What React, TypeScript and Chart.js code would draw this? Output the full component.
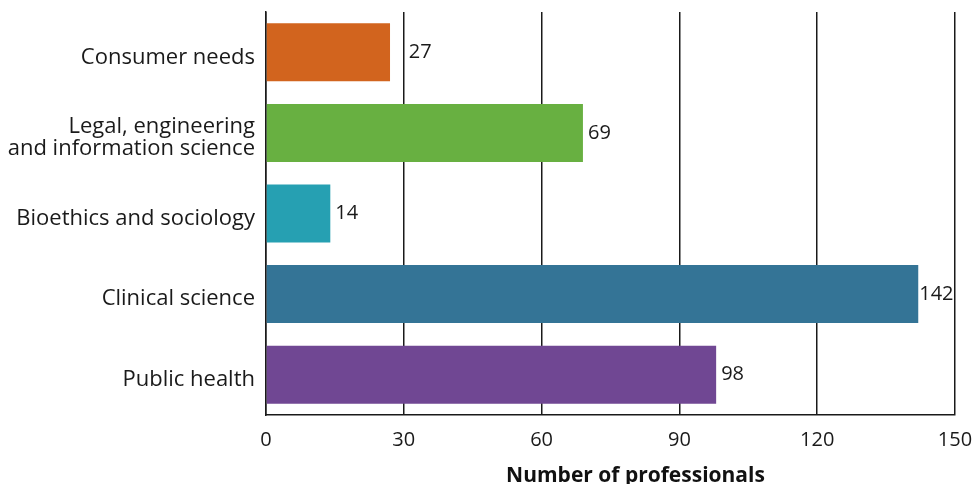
import React, { useEffect, useRef } from "react";
import { Chart, registerables } from "chart.js";

Chart.register(...registerables);

const categories: (string | string[])[] = [
  "Consumer needs",
  ["Legal, engineering", "and information science"],
  "Bioethics and sociology",
  "Clinical science",
  "Public health",
];
const values = [27, 69, 14, 142, 98];
const barColors = ["#D2641E", "#68B041", "#26A0B2", "#347496", "#704793"];
const axisTitle = "Number of professionals";
const xMin = 0;
const xMax = 150;
const xStep = 30;

const FONT = "'Open Sans', sans-serif";

const valueLabels = {
  id: "valueLabels",
  afterDatasetsDraw(chart: any) {
    const ctx = chart.ctx;
    const meta = chart.getDatasetMeta(0);
    const xs = chart.scales.x;
    const grids: number[] = [];
    for (let v = xMin; v <= xMax; v += xStep) grids.push(xs.getPixelForValue(v));
    ctx.save();
    ctx.font = `20px ${FONT}`;
    ctx.fillStyle = "#1a1a1a";
    ctx.textBaseline = "middle";
    ctx.textAlign = "left";
    meta.data.forEach((bar: any, i: number) => {
      const txt = String(values[i]);
      const w = ctx.measureText(txt).width;
      const end = bar.x;
      let x = end + 5;
      const hit = grids.find((g) => g > end && g < x + w + 2);
      if (hit !== undefined) {
        if (hit - end >= w - 2) x = end + 1;
        else x = hit + 5;
      }
      ctx.fillText(txt, x, bar.y);
    });
    ctx.restore();
  },
};

const xTitle = {
  id: "xTitle",
  afterDraw(chart: any) {
    const ctx = chart.ctx;
    const a = chart.chartArea;
    ctx.save();
    ctx.font = `bold 21px ${FONT}`;
    ctx.fillStyle = "#111";
    ctx.textAlign = "center";
    ctx.textBaseline = "middle";
    ctx.fillText(axisTitle, (a.left + a.right) / 2 + 25, a.bottom + 61);
    ctx.restore();
  },
};

export default function App() {
  const ref = useRef<HTMLCanvasElement>(null);
  useEffect(() => {
    document.body.style.margin = "0";
    const chart = new Chart(ref.current!, {
      type: "bar",
      data: {
        labels: categories as any,
        datasets: [
          {
            data: values,
            backgroundColor: barColors,
            borderWidth: 0,
            barPercentage: 0.72,
            categoryPercentage: 1,
          },
        ],
      },
      options: {
        indexAxis: "y",
        animation: false,
        responsive: false,
        maintainAspectRatio: false,
        layout: { padding: { left: 0, right: 18, top: 12, bottom: 0 } },
        plugins: { legend: { display: false }, tooltip: { enabled: false } },
        scales: {
          x: {
            min: xMin,
            max: xMax,
            ticks: {
              stepSize: xStep,
              padding: 13,
              color: "#1a1a1a",
              font: { family: FONT, size: 20 },
            },
            grid: { display: true, color: "#1a1a1a", lineWidth: 1.5, drawTicks: false },
            border: { display: true, color: "#1a1a1a", width: 1.5 },
            afterFit: (s: any) => {
              s.height = 69;
              s.paddingLeft = 0;
              s.paddingRight = 0;
            },
          },
          y: {
            ticks: {
              padding: 11,
              labelOffset: 5,
              color: "#1a1a1a",
              font: { family: FONT, size: 22, lineHeight: 0.98 },
            },
            grid: { display: false, drawTicks: false },
            border: { display: true, color: "#1a1a1a", width: 1.5 },
            afterFit: (s: any) => {
              s.width = 266;
              s.paddingTop = 0;
              s.paddingBottom = 0;
            },
          },
        },
      },
      plugins: [valueLabels, xTitle],
    });
    return () => chart.destroy();
  }, []);
  return (
    <div style={{ width: 973, height: 484 }}>
      <canvas ref={ref} width={973} height={484} />
    </div>
  );
}
